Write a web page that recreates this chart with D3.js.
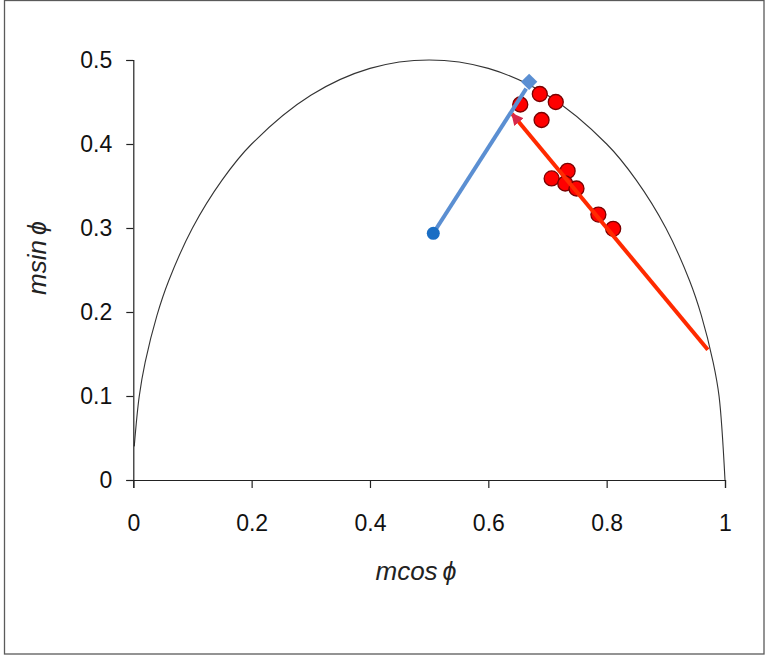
<!DOCTYPE html>
<html>
<head>
<meta charset="utf-8">
<script src="https://cdn.jsdelivr.net/npm/d3@7"></script>
<style>
  html, body { margin: 0; padding: 0; background: #fff; }
  svg { display: block; }
  text { font-family: "Liberation Sans", Arial, sans-serif; }
</style>
</head>
<body>
<svg id="chart" width="765" height="655"></svg>
<script>
// ---- Data ----
const xTicks = [0, 0.2, 0.4, 0.6, 0.8, 1];
const yTicks = [0, 0.1, 0.2, 0.3, 0.4, 0.5];

// Universal semicircle reference curve
const circleX = [0.0016, 0.01, 0.02, 0.04, 0.06, 0.1, 0.15, 0.2, 0.3, 0.4, 0.5, 0.6, 0.7, 0.8, 0.85, 0.9, 0.94, 0.96, 0.98, 0.99, 1.0];
const circleY = [0.04, 0.0995, 0.14, 0.196, 0.2375, 0.3, 0.357, 0.4, 0.458, 0.49, 0.5, 0.49, 0.458, 0.4, 0.357, 0.3, 0.2375, 0.196, 0.14, 0.0995, 0.0];

// Red measured points
const redX = [0.654, 0.687, 0.714, 0.690, 0.707, 0.734, 0.730, 0.749, 0.786, 0.811];
const redY = [0.447, 0.4595, 0.450, 0.4286, 0.359, 0.368, 0.353, 0.347, 0.316, 0.299];

// Red arrow (trend line) : start -> tip
const redLineX = [0.971, 0.640];
const redLineY = [0.155, 0.436];

// Blue point, blue line and diamond
const blueDotX = [0.507];
const blueDotY = [0.2937];
const blueLineX = [0.507, 0.664];
const blueLineY = [0.2937, 0.466];
const diamondX = [0.669];
const diamondY = [0.474];

// ---- Drawing ----
const svg = d3.select("#chart");

// outer frame
svg.append("rect")
  .attr("x", 4.5).attr("y", 0.5)
  .attr("width", 759.5).attr("height", 653.5)
  .attr("fill", "none").attr("stroke", "#5a5a5a").attr("stroke-width", 1.3);

const x = d3.scaleLinear().domain([0, 1]).range([133.3, 725]);
const y = d3.scaleLinear().domain([0, 0.5]).range([480, 60]);

// arrow marker
const defs = svg.append("defs");
defs.append("marker")
  .attr("id", "arrowRed")
  .attr("viewBox", "0 0 10 10")
  .attr("refX", 9).attr("refY", 5)
  .attr("markerWidth", 3).attr("markerHeight", 3)
  .attr("orient", "auto")
  .append("path")
  .attr("d", "M0,0 L10,5 L0,10 z")
  .attr("fill", "#d8284a");

// semicircle curve
const circlePts = circleX.map((d, i) => [d, circleY[i]]);
svg.append("path")
  .datum(circlePts)
  .attr("fill", "none")
  .attr("stroke", "#333")
  .attr("stroke-width", 1.1)
  .attr("d", d3.line().x(d => x(d[0])).y(d => y(d[1])).curve(d3.curveCatmullRom));

// axes
const xAxis = svg.append("g")
  .attr("transform", `translate(0,${y(0)})`)
  .call(d3.axisBottom(x).tickValues(xTicks).tickSize(8).tickPadding(27).tickFormat(d3.format("")));
const yAxis = svg.append("g")
  .attr("transform", `translate(${x(0)},0)`)
  .call(d3.axisLeft(y).tickValues(yTicks).tickSize(7).tickPadding(14).tickFormat(d3.format("")));

[xAxis, yAxis].forEach(g => {
  g.attr("font-size", 23);
  g.select(".domain").attr("stroke", "#222").attr("stroke-width", 1.2);
  g.selectAll(".tick line").attr("stroke", "#222").attr("stroke-width", 1.2);
  g.selectAll(".tick text")
    .attr("font-size", 23)
    .attr("fill", "#111")
    .attr("font-family", "'Liberation Sans', Arial, sans-serif");
});

// axis titles
const xt = svg.append("text")
  .attr("x", 416).attr("y", 580)
  .attr("text-anchor", "middle")
  .attr("font-size", 26)
  .attr("font-style", "italic")
  .attr("fill", "#222");
xt.append("tspan").text("mcos");
xt.append("tspan").attr("dx", 5).attr("font-size", 25).text("ϕ");

const yt = svg.append("text")
  .attr("transform", "translate(46,258) rotate(-90)")
  .attr("text-anchor", "middle")
  .attr("font-size", 26)
  .attr("font-style", "italic")
  .attr("fill", "#222");
yt.append("tspan").text("msin");
yt.append("tspan").attr("dx", 5).attr("font-size", 25).text("ϕ");

// red points
const redPts = redX.map((d, i) => [d, redY[i]]);
svg.append("g").selectAll("circle")
  .data(redPts).join("circle")
  .attr("cx", d => x(d[0])).attr("cy", d => y(d[1]))
  .attr("r", 7.5)
  .attr("fill", "#ff0000")
  .attr("stroke", "#7a0000")
  .attr("stroke-width", 1.3);

// red arrow line
const lineGen = d3.line().x(d => x(d[0])).y(d => y(d[1]));
svg.append("path")
  .datum(redLineX.map((d, i) => [d, redLineY[i]]))
  .attr("fill", "none")
  .attr("stroke", "#ff2a00")
  .attr("stroke-width", 4)
  .attr("marker-end", "url(#arrowRed)")
  .attr("d", lineGen);

// blue line
svg.append("path")
  .datum(blueLineX.map((d, i) => [d, blueLineY[i]]))
  .attr("fill", "none")
  .attr("stroke", "#5b8fd2")
  .attr("stroke-width", 4)
  .attr("d", lineGen);

// blue dot
svg.append("g").selectAll("circle")
  .data(blueDotX.map((d, i) => [d, blueDotY[i]])).join("circle")
  .attr("cx", d => x(d[0])).attr("cy", d => y(d[1]))
  .attr("r", 6.5)
  .attr("fill", "#1a6ec4");

// diamond
svg.append("g").selectAll("path")
  .data(diamondX.map((d, i) => [d, diamondY[i]])).join("path")
  .attr("transform", d => `translate(${x(d[0])},${y(d[1])})`)
  .attr("d", d3.symbol().type(d3.symbolDiamond2).size(170))
  .attr("fill", "#5b8fd2");
</script>
</body>
</html>
